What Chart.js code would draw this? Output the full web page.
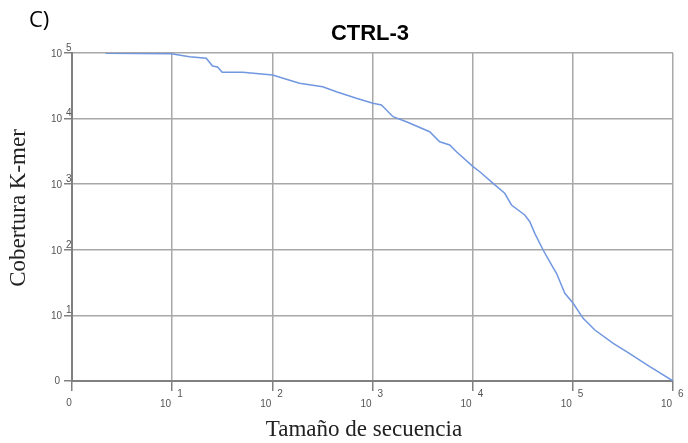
<!DOCTYPE html>
<html>
<head>
<meta charset="utf-8">
<script src="https://cdn.jsdelivr.net/npm/chart.js@4"></script>
<style>
  html, body { margin: 0; padding: 0; background: #fff; }
  #wrap { width: 688px; height: 443px; position: relative; }
</style>
</head>
<body>
<div id="wrap"><canvas id="c" width="688" height="443"></canvas></div>
<script>
// Sequence size (x, log scale) and K-mer coverage (y, log scale)
const sequenceSize = [2.16, 9.8, 14.9, 21.9, 25.3, 28.4, 31.6, 50.5, 100.7, 138, 187, 318, 436, 690, 1010, 1228, 1603, 2180, 3720, 4690, 5900, 6890, 10090, 11780, 16000, 20900, 24400, 33100, 37200, 41700, 50500, 62700, 68700, 83200, 100700, 126800, 166000, 253000, 344000, 587000, 1000000];
const kmerCoverage = [99000, 97000, 87900, 83000, 63400, 61200, 50800, 50800, 46200, 39700, 34500, 30600, 25700, 20400, 17100, 16100, 10700, 8970, 6310, 4440, 3960, 3130, 1850, 1550, 1030, 727, 482, 339, 268, 178, 99.3, 55.2, 43.8, 21.7, 15.3, 9.03, 5.99, 3.76, 2.80, 1.65, 1.0];
const xTickValues = [1, 10, 100, 1000, 10000, 100000, 1000000];
const yTickValues = [1, 10, 100, 1000, 10000, 100000];

const chartTitle = 'CTRL-3';
const panelLabel = 'C)';
const xTitle = 'Tamaño de secuencia';
const yTitle = 'Cobertura K-mer';

const points = sequenceSize.map((x, i) => ({ x: x, y: kmerCoverage[i] }));

const labelPlugin = {
  id: 'labels',
  afterDraw(chart) {
    const ctx = chart.ctx;
    const xs = chart.scales.x, ys = chart.scales.y;
    const area = chart.chartArea;
    ctx.save();
    // tick labels
    ctx.fillStyle = '#555';
    ctx.font = '10px "Liberation Sans", Arial, sans-serif';
    ctx.textBaseline = 'middle';
    yTickValues.forEach(v => {
      const py = ys.getPixelForValue(v);
      const e = Math.round(Math.log10(v));
      if (e === 0) {
        ctx.textAlign = 'right';
        ctx.fillText('0', area.left - 12, py);
      } else {
        ctx.textAlign = 'right';
        ctx.fillText('10', area.left - 10, py + 1);
        ctx.textAlign = 'left';
        ctx.fillText(String(e), area.left - 6, py - 5);
      }
    });
    xTickValues.forEach(v => {
      const px = xs.getPixelForValue(v);
      const e = Math.round(Math.log10(v));
      if (e === 0) {
        ctx.textAlign = 'center';
        ctx.fillText('0', px - 3, area.bottom + 22);
      } else {
        ctx.textAlign = 'right';
        ctx.fillText('10', px - 1, area.bottom + 23);
        ctx.textAlign = 'left';
        ctx.fillText(String(e), px + 5, area.bottom + 13);
      }
    });
    // title
    ctx.fillStyle = '#000';
    ctx.font = 'bold 22px "Liberation Sans", Arial, sans-serif';
    ctx.textAlign = 'center';
    ctx.fillText(chartTitle, 370, 34);
    // panel label
    ctx.font = '22px "Open Sans", "Liberation Sans", sans-serif';
    ctx.textAlign = 'left';
    ctx.fillText(panelLabel, 29, 21);
    // axis titles
    ctx.fillStyle = '#222';
    ctx.font = '23px "Liberation Serif", serif';
    ctx.textAlign = 'center';
    ctx.fillText(xTitle, 364, 430);
    ctx.save();
    ctx.translate(19, 208);
    ctx.rotate(-Math.PI / 2);
    ctx.fillText(yTitle, 0, 0);
    ctx.restore();
    ctx.restore();
  }
};

new Chart(document.getElementById('c'), {
  type: 'scatter',
  data: {
    datasets: [{
      data: points,
      showLine: true,
      borderColor: '#7197e0',
      borderWidth: 1.5,
      pointRadius: 0,
      tension: 0,
      fill: false
    }]
  },
  options: {
    responsive: false,
    animation: false,
    devicePixelRatio: 1,
    layout: { padding: { left: 72, top: 53, right: 15, bottom: 62 } },
    plugins: { legend: { display: false }, tooltip: { enabled: false } },
    scales: {
      x: {
        type: 'logarithmic',
        min: 1, max: 1000000,
        afterBuildTicks: s => { s.ticks = xTickValues.map(v => ({ value: v })); },
        afterFit: s => { s.height = 0; },
        ticks: { display: false },
        grid: { color: '#a8a8a8', lineWidth: 1.5, drawTicks: true, tickLength: 10, tickColor: '#808080' },
        border: { color: '#808080', width: 2 }
      },
      y: {
        type: 'logarithmic',
        min: 1, max: 100000,
        afterBuildTicks: s => { s.ticks = yTickValues.map(v => ({ value: v })); },
        afterFit: s => { s.width = 0; },
        ticks: { display: false },
        grid: { color: '#a8a8a8', lineWidth: 1.5, drawTicks: true, tickLength: 8, tickColor: '#808080' },
        border: { color: '#808080', width: 2 }
      }
    }
  },
  plugins: [labelPlugin]
});
</script>
</body>
</html>
